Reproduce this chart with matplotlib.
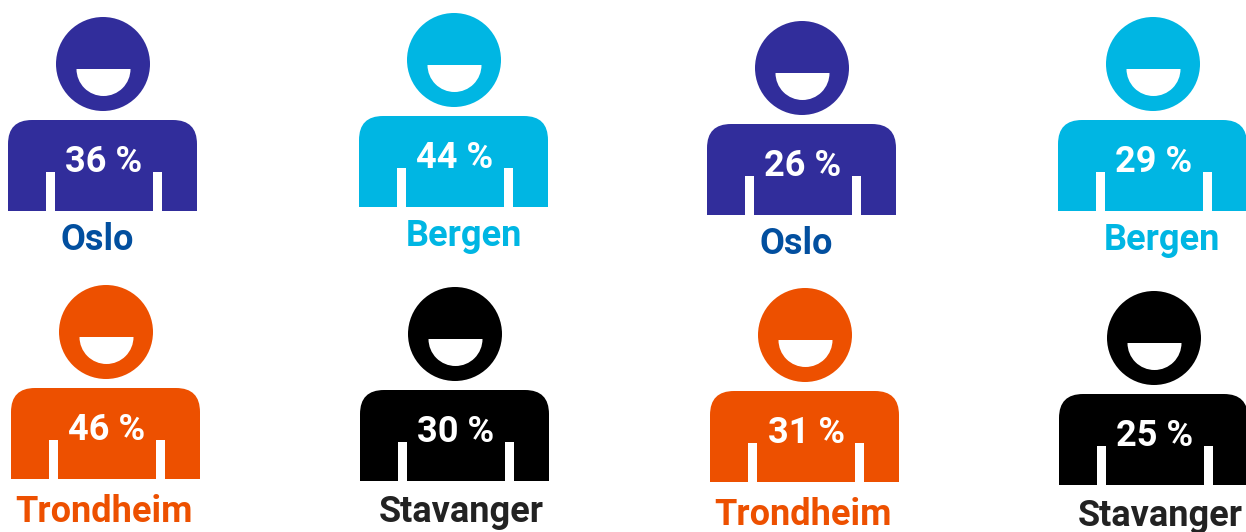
import matplotlib
matplotlib.use("Agg")
import matplotlib.pyplot as plt
from matplotlib.patches import Circle, PathPatch, Rectangle, Wedge
from matplotlib.path import Path

cities = ["Oslo", "Bergen", "Oslo", "Bergen",
          "Trondheim", "Stavanger", "Trondheim", "Stavanger"]
shares = [36, 44, 26, 29, 46, 30, 31, 25]

body_colors = {"Oslo": "#312d9b", "Bergen": "#00b6e3", "Trondheim": "#ed5000", "Stavanger": "#000000"}
label_colors = {"Oslo": "#024f9f", "Bergen": "#00b6e3", "Trondheim": "#ed5000", "Stavanger": "#222222"}

# top left corner of each body, in pixels of the reference
anchors = [(8, 120), (359, 116), (707, 124), (1058, 120),
           (11, 388), (360, 390), (710, 391), (1059, 394)]
# centre of the city name under each figure
label_pos = [(97, 240), (464, 236), (796, 244), (1162, 240),
             (104, 512), (461, 512), (803, 515), (1160, 516)]

W, H = 1246, 532
BODY_W, BODY_H, CORNER = 189, 91, 24


def body_path(x, y):
    r = x + BODY_W
    b = y + BODY_H
    verts = [(x, b), (x, y + CORNER), (x, y), (x + CORNER, y),
             (r - CORNER, y), (r, y), (r, y + CORNER), (r, b), (x, b)]
    codes = [Path.MOVETO, Path.LINETO, Path.CURVE3, Path.CURVE3,
             Path.LINETO, Path.CURVE3, Path.CURVE3, Path.LINETO, Path.CLOSEPOLY]
    return Path(verts, codes)


def person(ax, x, y, color):
    ax.add_patch(PathPatch(body_path(x, y), fc=color, ec="none"))
    # white slits that mark the arms
    for sx in (37.5, 144.5):
        ax.add_patch(Rectangle((x + sx, y + 52), 9, BODY_H - 52, fc="white", ec="none"))
    ax.add_patch(Circle((x + 95, y - 56), 47, fc=color, ec="none"))
    ax.add_patch(Wedge((x + 95.5, y - 51), 27, 0, 180, fc="white", ec="none"))


fig = plt.figure(figsize=(W / 100, H / 100), dpi=100, facecolor="white")
ax = fig.add_axes([0, 0, 1, 1])
ax.set_xlim(0, W)
ax.set_ylim(H, 0)
ax.axis("off")

for city, share, (x, y), (lx, ly) in zip(cities, shares, anchors, label_pos):
    person(ax, x, y, body_colors[city])
    ax.text(x + 96, y + 42, f"{share} %", color="white", fontsize=26, fontweight="bold",
            family="Roboto", ha="center", va="center")
    ax.text(lx, ly, city, color=label_colors[city], fontsize=26, fontweight="bold",
            family="Roboto", ha="center", va="center")

fig.savefig("out.png", dpi=100)
plt.close(fig)
